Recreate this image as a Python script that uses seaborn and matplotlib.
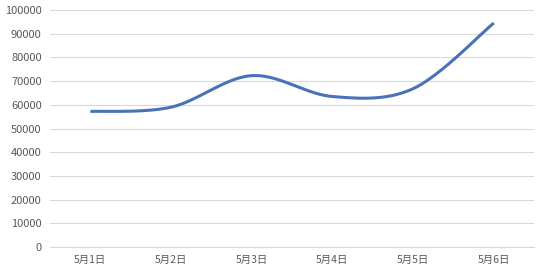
import numpy as np
import pandas as pd
import seaborn as sns
import matplotlib.pyplot as plt

# --- data ---
dates = ["5月1日", "5月2日", "5月3日", "5月4日", "5月5日", "5月6日"]
values = [57200, 59000, 72300, 63500, 66800, 94500]
y_ticks = list(range(0, 100001, 10000))


def smooth_line(xs, ys, steps=40):
    # Excel style smoothed line: cubic bezier through points, Catmull-Rom control points
    xs = np.asarray(xs, float)
    ys = np.asarray(ys, float)
    px = np.concatenate([[xs[0]], xs, [xs[-1]]])
    py = np.concatenate([[ys[0]], ys, [ys[-1]]])
    out_x, out_y = [], []
    t = np.linspace(0, 1, steps)
    for i in range(1, len(px) - 2):
        p0 = np.array([px[i], py[i]])
        p3 = np.array([px[i + 1], py[i + 1]])
        c1 = p0 + (np.array([px[i + 1], py[i + 1]]) - np.array([px[i - 1], py[i - 1]])) / 6
        c2 = p3 - (np.array([px[i + 2], py[i + 2]]) - np.array([px[i], py[i]])) / 6
        b = ((1 - t) ** 3)[:, None] * p0 + (3 * (1 - t) ** 2 * t)[:, None] * c1 \
            + (3 * (1 - t) * t ** 2)[:, None] * c2 + (t ** 3)[:, None] * p3
        out_x.extend(b[:, 0])
        out_y.extend(b[:, 1])
    return out_x, out_y


sns.set_style("white")
plt.rcParams['font.family'] = ['Noto Sans CJK SC', 'DejaVu Sans']

pos = np.arange(len(dates))
sx, sy = smooth_line(pos, values)
df = pd.DataFrame({"x": sx, "y": sy})

fig = plt.figure(figsize=(5.47, 2.77), dpi=100)
ax = fig.add_axes([0.0914, 0.108, 0.885, 0.856])

sns.lineplot(data=df, x="x", y="y", ax=ax, color="#4a72b8", linewidth=2.2,
             sort=False, estimator=None, solid_capstyle="butt")

ax.set_xlim(-0.5, len(dates) - 0.5)
ax.set_ylim(0, 100000)
ax.set_yticks(y_ticks)
ax.set_yticklabels([str(v) for v in y_ticks])
ax.set_xticks(pos)
ax.set_xticklabels(dates)
ax.set_xticks(np.arange(-0.5, len(dates)), minor=True)
ax.set_xlabel("")
ax.set_ylabel("")

ax.grid(axis="y", color="#d9d9d9", linewidth=0.8)
ax.set_axisbelow(True)
for s in ["top", "right", "left"]:
    ax.spines[s].set_visible(False)
ax.spines["bottom"].set_color("#d9d9d9")
ax.spines["bottom"].set_linewidth(0.8)

ax.tick_params(axis="y", length=0, labelsize=8, labelcolor="#595959", pad=6)
ax.tick_params(axis="x", which="major", length=0, labelsize=7.5, labelcolor="#595959", pad=6)
ax.tick_params(axis="x", which="minor", length=4, color="#d9d9d9", width=0.8, direction="out")

fig.savefig("out.png", dpi=100)
plt.close(fig)
